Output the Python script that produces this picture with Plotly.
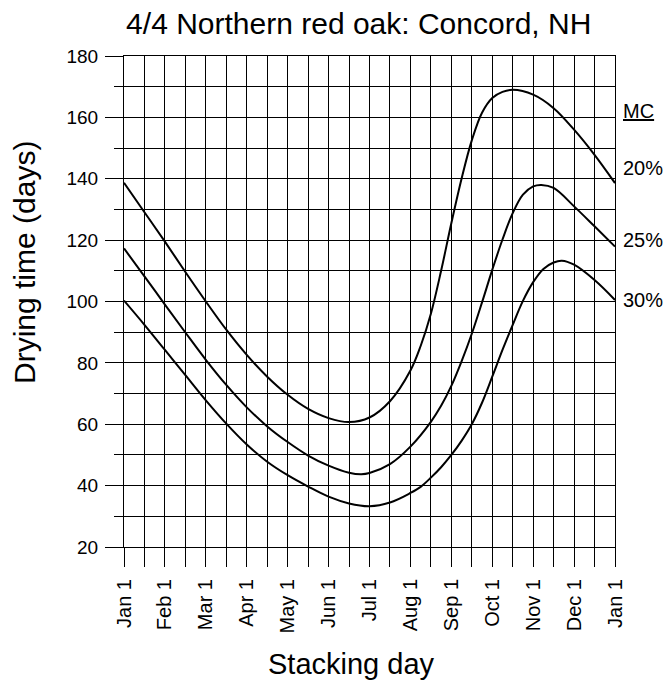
import plotly.graph_objects as go

# x positions in months after Jan 1 (0 = Jan 1, 12 = next Jan 1)
x_mc20 = [0, 0.5, 1, 1.5, 2, 2.5, 3, 3.5, 4, 4.5, 5, 5.5, 6, 6.5, 7, 7.25, 7.5, 7.75, 8, 8.25, 8.5, 8.75, 9, 9.25, 9.5, 10, 10.5, 11, 11.5, 12]
y_mc20 = [138.7, 129.1, 119.5, 109.6, 100, 90.8, 82.6, 75.5, 69.6, 65, 62, 60.7, 62.2, 67.5, 77.5, 85.5, 96, 110, 125.5, 140, 152.5, 161.5, 166.3, 168.3, 169, 167.4, 163, 156, 147.8, 138.6]

x_mc25 = [0, 0.5, 1, 1.5, 2, 2.5, 3, 3.5, 4, 4.5, 5, 5.5, 5.8, 6, 6.5, 7, 7.5, 7.75, 8, 8.25, 8.5, 8.75, 9, 9.25, 9.5, 9.75, 10, 10.2, 10.5, 11, 11.5, 12]
y_mc25 = [117.3, 108.2, 99, 89.9, 81, 72.8, 65.5, 59.3, 54.2, 49.8, 46.5, 44.2, 43.7, 44.1, 47, 52.7, 60.8, 66, 72.5, 80.5, 89.5, 99.7, 110.3, 120.2, 128.8, 134.8, 137.5, 138, 137, 131, 124.5, 117.9]

x_mc30 = [0, 0.5, 1, 1.5, 2, 2.5, 3, 3.5, 4, 4.5, 5, 5.5, 6, 6.5, 7, 7.25, 7.5, 7.75, 8, 8.25, 8.5, 8.75, 9, 9.25, 9.5, 9.75, 10, 10.25, 10.5, 10.7, 11, 11.5, 12]
y_mc30 = [100.3, 92.4, 84.2, 76, 67.8, 60.2, 53.4, 47.8, 43.4, 39.7, 36.4, 34.2, 33.3, 34.5, 37.6, 39.6, 42.6, 46, 50, 54.6, 60, 67, 75.5, 84.2, 92.4, 100.2, 106.3, 110.6, 112.7, 113.3, 112, 107, 100.5]

month_vals = list(range(13))
month_labels = ["Jan 1", "Feb 1", "Mar 1", "Apr 1", "May 1", "Jun 1", "Jul 1",
                "Aug 1", "Sep 1", "Oct 1", "Nov 1", "Dec 1", "Jan 1"]
y_tick_vals = [20, 40, 60, 80, 100, 120, 140, 160, 180]

mc_labels = ["20%", "25%", "30%"]
mc_label_y = [143.5, 120.0, 100.5]
mc_header_y = 162

FONT = "Arial, Liberation Sans, sans-serif"

fig = go.Figure()
for xs, ys, name in [(x_mc20, y_mc20, "20%"), (x_mc25, y_mc25, "25%"), (x_mc30, y_mc30, "30%")]:
    fig.add_trace(go.Scatter(x=xs, y=ys, mode="lines", name=name,
                             line=dict(color="black", width=2, shape="spline", smoothing=1.0),
                             showlegend=False, hoverinfo="skip"))

fig.add_annotation(x=1.0, xref="paper", xshift=6, y=mc_header_y, yref="y",
                   text="<u>MC</u>", showarrow=False, xanchor="left", yanchor="middle",
                   font=dict(family=FONT, size=20, color="black"))
for lab, yy in zip(mc_labels, mc_label_y):
    fig.add_annotation(x=1.0, xref="paper", xshift=6, y=yy, yref="y",
                       text=lab, showarrow=False, xanchor="left", yanchor="middle",
                       font=dict(family=FONT, size=20, color="black"))

# axis titles
fig.add_annotation(x=0.464, xref="paper", y=-0.238, yref="paper", text="Stacking day",
                   showarrow=False, xanchor="center", yanchor="middle",
                   font=dict(family=FONT, size=29, color="black"))
fig.add_annotation(x=-0.2037, xref="paper", y=0.5804, yref="paper", text="Drying time (days)",
                   showarrow=False, xanchor="center", yanchor="middle", textangle=-90,
                   font=dict(family=FONT, size=30, color="black"))

fig.update_layout(
    width=663, height=682,
    margin=dict(l=116, r=56, t=48, b=143),
    paper_bgcolor="white", plot_bgcolor="white",
    font=dict(family=FONT, color="black"),
    title=dict(text="4/4 Northern red oak: Concord, NH", x=0.529, xref="container",
               xanchor="center", y=0.978, yref="container", yanchor="middle",
               font=dict(family=FONT, size=30, color="black")),
)

fig.update_xaxes(
    range=[0, 12], tickmode="array", tickvals=month_vals, ticktext=month_labels,
    tickangle=-90, ticks="outside", ticklen=19, tickwidth=1, tickcolor="black",
    tickfont=dict(family=FONT, size=20, color="black"),
    showgrid=True, gridcolor="black", gridwidth=1,
    showline=True, linecolor="black", linewidth=1, mirror=True,
    zeroline=False,
    minor=dict(dtick=0.5, tick0=0, ticks="outside", ticklen=19, tickcolor="black",
               showgrid=True, gridcolor="black", gridwidth=1),
    ticklabelstandoff=4,
)
fig.update_yaxes(
    range=[20, 180], tickmode="array", tickvals=y_tick_vals,
    ticks="outside", ticklen=18, tickwidth=1, tickcolor="black",
    tickfont=dict(family=FONT, size=19, color="black"),
    showgrid=True, gridcolor="black", gridwidth=1,
    showline=True, linecolor="black", linewidth=1, mirror=True,
    zeroline=False,
    minor=dict(dtick=10, tick0=20, ticks="outside", ticklen=9, tickcolor="black",
               showgrid=True, gridcolor="black", gridwidth=1),
    ticklabelstandoff=3,
)

fig.write_html("out.html")
